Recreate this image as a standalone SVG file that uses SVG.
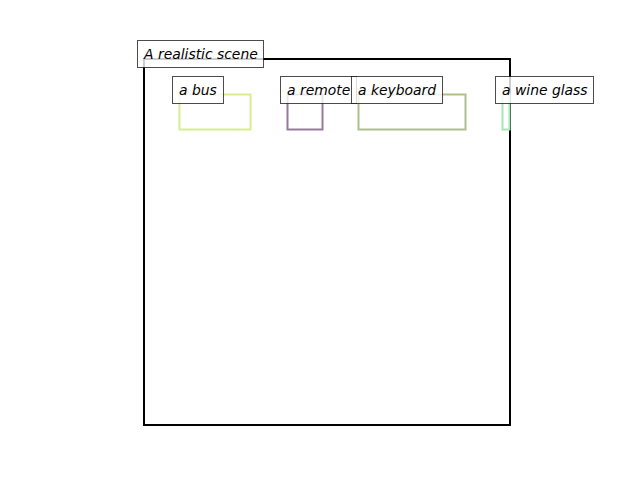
<svg xmlns="http://www.w3.org/2000/svg" width="640" height="480" viewBox="0 0 640 480">
<style>
.lbl{fill:#fff;fill-opacity:0.8;stroke:#000;stroke-opacity:0.7;stroke-width:1}
.t{font-family:"DejaVu Sans",sans-serif;font-style:oblique;font-size:13.9px;fill:#000}
.obj{fill:none;stroke-width:2}
</style>
<rect width="640" height="480" fill="#fff"/>
<g id="scene-frame">
<rect x="144" y="59" width="366" height="366" fill="none" stroke="#000" stroke-width="2"/>
</g>
<g id="bus-box"><rect class="obj" x="179.5" y="94.5" width="71" height="35" stroke="#d6ee8c"/></g>
<g id="remote-box"><rect class="obj" x="287.5" y="94.5" width="35" height="35" stroke="#957a9a"/></g>
<g id="keyboard-box"><rect class="obj" x="358.5" y="94.5" width="107" height="35" stroke="#afbf8c"/></g>
<g id="wineglass-box"><rect class="obj" x="502.5" y="94.5" width="7" height="35" stroke="#a4e8b4"/></g>
<g id="scene-label">
<rect class="lbl" x="137.5" y="40.5" width="126" height="27"/>
<text class="t" x="144" y="58.5">A realistic scene</text>
</g>
<g id="bus-label">
<rect class="lbl" x="172.5" y="76.5" width="51" height="27"/>
<text class="t" x="179" y="94.5">a bus</text>
</g>
<g id="remote-label">
<rect class="lbl" x="280.5" y="76.5" width="76" height="27"/>
<text class="t" x="287" y="94.5">a remote</text>
</g>
<g id="keyboard-label">
<rect class="lbl" x="351.5" y="76.5" width="91" height="27"/>
<text class="t" x="358" y="94.5">a keyboard</text>
</g>
<g id="wineglass-label">
<rect class="lbl" x="495.5" y="76.5" width="98" height="27"/>
<text class="t" x="502" y="94.5">a wine glass</text>
</g>
</svg>
